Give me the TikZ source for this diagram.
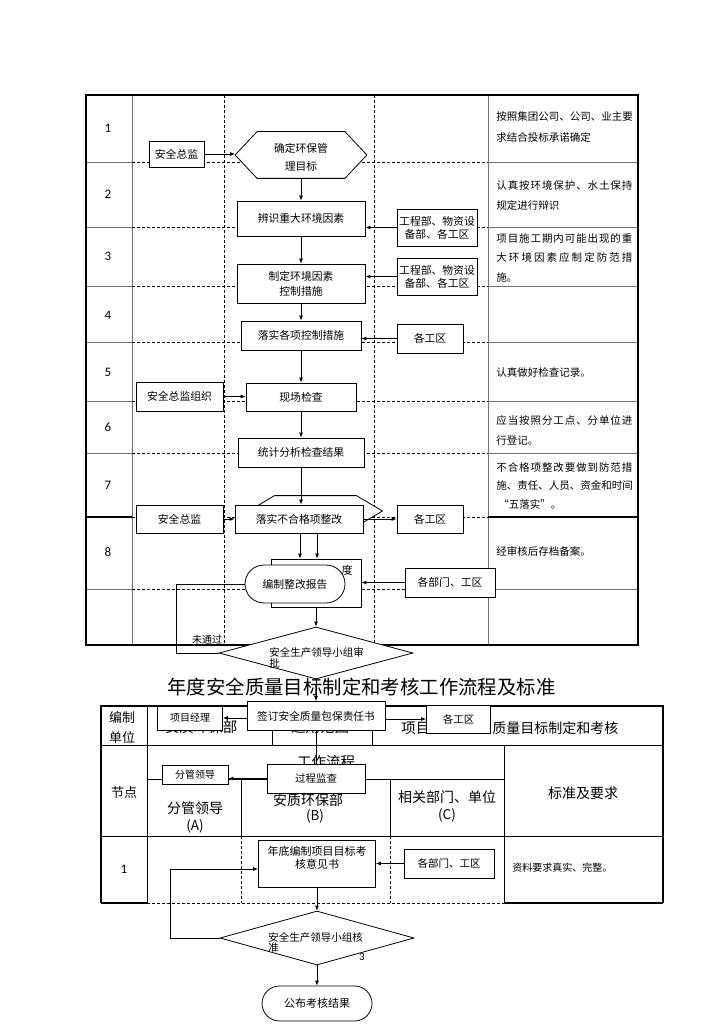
\documentclass[tikz,border=0pt]{standalone}
\usepackage{fontspec}
\setmainfont{Noto Sans CJK SC}
\newfontfamily\numf{Carlito}
\usetikzlibrary{arrows.meta,shapes.geometric,shapes.misc}
\def\sjA#1{\ifx#1\relax\else#1\hskip0pt plus1fil\expandafter\sjA\fi}
\newcommand\sj[1]{\makebox[136pt][s]{\sjA#1\relax\unskip}}
\newcommand\myfs[2]{\fontsize{#1}{#2}\selectfont}
\begin{document}
\begin{tikzpicture}[x=1pt,y=-1pt,line width=0.8pt,
  bx/.style={draw,fill=white,inner sep=0pt,align=center,font=\myfs{10.8}{13}},
  rbx/.style={rounded rectangle,draw,fill=white,inner sep=0pt,font=\myfs{10.8}{13}},
  dia/.style={diamond,draw,fill=white,inner sep=0pt},
  arr/.style={-{Latex[length=5pt,width=4pt]}},
  dsh/.style={dash pattern=on 3pt off 2pt},
  gline/.style={draw=black!55,line width=0.8pt},
  tframe/.style={line width=2.5pt},
  rtxt/.style={anchor=west,align=left,inner sep=0pt},
  numt/.style={font=\numf\myfs{13}{15},inner sep=0pt},
  hdr/.style={font=\myfs{14}{17},inner sep=0pt,align=center},
  txt/.style={inner sep=0pt,font=\myfs{10.5}{13},align=center},
]
\useasboundingbox (0,0) rectangle (724,1024);
\fill[white] (0,0) rectangle (724,1024);

% ---------- table 1 grid ----------
\draw[black!55] (132,95) -- (132,645);
\draw[black!55] (488,95) -- (488,645);
\draw[dsh] (224,95) -- (224,645);
\draw[dsh] (374,95) -- (374,645);
\foreach \y in {162,227,286,342,401,453,589}{
  \draw[gline] (86,\y) -- (132,\y);
  \draw[dsh] (132,\y) -- (488,\y);
  \draw[gline] (488,\y) -- (638,\y);
}
\draw[line width=1.2pt] (86,517) -- (132,517);
\draw[dsh] (132,517) -- (488,517);
\draw[line width=1.2pt] (488,517) -- (638,517);
\draw[tframe] (86,95) rectangle (638,645);

\foreach \n/\y in {1/128,2/194,3/256,4/315,5/372,6/427,7/485,8/552}
  \node[numt] (num\n) at (108,\y) {\n};

\node[rtxt,font=\myfs{10.5}{21}] (r1) at (496,127.5) {按照集团公司、公司、业主要\\求结合投标承诺确定};
\node[rtxt,font=\myfs{10.5}{20}] (r2) at (496,195) {\sj{认真按环境保护、水土保持}\\规定进行辩识};
\node[rtxt,font=\myfs{10.5}{19.5}] (r3) at (496,257.5) {\sj{项目施工期内可能出现的重}\\\sj{大环境因素应制定防范措}\\施。};
\node[rtxt,font=\myfs{10.5}{13}] (r5) at (496,372) {认真做好检查记录。};
\node[rtxt,font=\myfs{10.5}{20}] (r6) at (496,430) {\sj{应当按照分工点、分单位进}\\行登记。};
\node[rtxt,font=\myfs{10.5}{18.5}] (r7) at (496,485.5) {\sj{不合格项整改要做到防范措}\\\sj{施、责任、人员、资金和时间}\\\hspace{2pt}“五落实”。};
\node[rtxt,font=\myfs{10.5}{13}] (r8) at (496,551) {经审核后存档备案。};

% ---------- table 2 grid ----------
\draw (101,745) -- (663,745);
\draw (101,836) -- (663,836);
\draw (147,706) -- (147,903);
\draw (272,706) -- (272,745);
\draw (372,706) -- (372,745);
\draw (504,745) -- (504,903);
\draw (147,779) -- (504,779);
\draw (241,779) -- (241,836);
\draw (390,779) -- (390,836);
\draw[dsh] (241,836) -- (241,903);
\draw[dsh] (390,836) -- (390,903);
\draw[dsh] (147,903) -- (504,903);
\draw[tframe] (101,903) -- (101,706) -- (663,706) -- (663,903);
\draw[tframe] (101,903) -- (147,903);
\draw[tframe] (504,903) -- (663,903);

% table 2 texts
\node[hdr,font=\myfs{13}{15}] (t2a) at (122,718) {编制};
\node[hdr,font=\myfs{13}{15}] (t2b) at (122,737) {单位};
\node[hdr,font=\myfs{14.5}{17}] (t2c) at (201,727) {安质环保部};
\node[hdr,font=\myfs{14.5}{17}] (t2d) at (320,727) {适用范围};
\node[hdr,font=\myfs{14.5}{17},anchor=west] (t2e) at (401,728) {项目};
\node[hdr,font=\myfs{14}{17},anchor=west] (t2f) at (492,728) {质量目标制定和考核};
\node[hdr,font=\myfs{13}{15}] (t2g) at (124,793) {节点};
\node[hdr,font=\myfs{14.5}{17}] (t2h) at (326,762) {工作流程};
\node[hdr] (t2i) at (195,808) {分管领导};
\node[hdr,font=\myfs{13.5}{15}] (t2j) at (195,826) {(A)};
\node[hdr] (t2k) at (308,800) {安质环保部};
\node[hdr,font=\myfs{13.5}{15}] (t2l) at (315,816) {(B)};
\node[hdr] (t2m) at (447,797) {相关部门、单位};
\node[hdr,font=\myfs{13.5}{15}] (t2n) at (447,815) {(C)};
\node[hdr] (t2o) at (583,793) {标准及要求};
\node[numt] (t2p) at (124,869) {1};
\node[rtxt,font=\myfs{10}{12}] (t2q) at (512,868) {资料要求真实、完整。};

% title
\node[inner sep=0pt,font=\myfs{19.4}{22}] (title) at (361.5,687) {年度安全质量目标制定和考核工作流程及标准};

% ---------- table 1 shapes ----------
\node[bx,minimum width=55pt,minimum height=26pt] (aqzj1) at (176.5,154) {安全总监};
\node[inner sep=0pt,minimum width=131pt,minimum height=46pt] (hex1) at (301,155) {};
\draw[fill=white] (hex1.west) -- ([xshift=22pt]hex1.north west) -- ([xshift=-22pt]hex1.north east) -- (hex1.east) -- ([xshift=-22pt]hex1.south east) -- ([xshift=22pt]hex1.south west) -- cycle;
\node[txt,font=\myfs{10.8}{18}] (hex1t) at (301,157) {确定环保管\\理目标};
\node[bx,minimum width=128pt,minimum height=35pt] (bs) at (301,218.5) {辨识重大环境因素};
\node[bx,minimum width=80pt,minimum height=37pt,font=\myfs{10.8}{13}] (gcb1) at (437,227.5) {工程部、物资设\\备部、各工区};
\node[bx,minimum width=128pt,minimum height=39pt,font=\myfs{10.8}{15}] (zd) at (301,283.5) {制定环境因素\\控制措施};
\node[bx,minimum width=80pt,minimum height=37pt,font=\myfs{10.8}{13}] (gcb2) at (437,276.5) {工程部、物资设\\备部、各工区};
\node[bx,minimum width=120pt,minimum height=29pt] (lsg) at (301,335.5) {落实各项控制措施};
\node[bx,minimum width=66pt,minimum height=29pt] (gq1) at (430,338.5) {各工区};
\node[bx,minimum width=87pt,minimum height=29pt] (aqzjzz) at (179.5,396.5) {安全总监组织};
\node[bx,minimum width=110pt,minimum height=28pt] (xc) at (301,397) {现场检查};
\node[bx,minimum width=126pt,minimum height=29pt] (tj) at (301,452.5) {统计分析检查结果};
\node[inner sep=0pt,minimum width=133pt,minimum height=30pt] (hex2) at (315.5,511) {};
\draw[fill=white] (hex2.west) -- ([xshift=26pt]hex2.north west) -- ([xshift=-26pt]hex2.north east) -- (hex2.east) -- ([xshift=-26pt]hex2.south east) -- ([xshift=26pt]hex2.south west) -- cycle;
\node[bx,minimum width=128pt,minimum height=28pt] (lbh) at (299,519) {落实不合格项整改};
\node[bx,minimum width=87pt,minimum height=28pt] (aqzj2) at (179.5,519) {安全总监};
\node[bx,minimum width=66pt,minimum height=28pt] (gq2) at (430,519) {各工区};
\node[bx,minimum width=90pt,minimum height=48pt] (rb) at (316,583) {};
\node[txt,font=\myfs{11}{13}] (rbt) at (347,570) {度};
\node[rbx,minimum width=100pt,minimum height=38pt] (bz) at (295,584) {编制整改报告};
\node[bx,minimum width=90pt,minimum height=29pt] (gbm1) at (450,582.5) {各部门、工区};
\node[dia,minimum width=194pt,minimum height=52pt] (d1) at (316,653) {};
\node[txt,anchor=west] (d1a) at (269,652) {安全生产领导小组审};
\node[txt,anchor=west] (d1b) at (269,663) {批};
\node[txt,font=\myfs{10}{12}] (wtg) at (207,640) {未通过};

% ---------- table 2 shapes ----------
\node[bx,minimum width=138pt,minimum height=29pt,font=\myfs{10.7}{13}] (qd) at (316,716) {签订安全质量包保责任书};
\node[bx,minimum width=65pt,minimum height=24pt,font=\myfs{10}{12}] (xmjl) at (190,718) {项目经理};
\node[bx,minimum width=64pt,minimum height=28pt,font=\myfs{10.5}{12}] (gq3) at (458.5,719) {各工区};
\node[bx,minimum width=98pt,minimum height=29pt,font=\myfs{10.5}{12}] (gc) at (316,778.5) {过程监查};
\node[bx,minimum width=66pt,minimum height=19pt,font=\myfs{10}{12}] (fg) at (195,774.5) {分管领导};
\node[bx,minimum width=117pt,minimum height=47pt] (nd) at (317,863.5) {};
\node[txt,font=\myfs{11}{12.5}] (ndt) at (317,858) {年底编制项目目标考\\核意见书};
\node[bx,minimum width=90pt,minimum height=29pt,font=\myfs{10.5}{12}] (gbm2) at (449,863.5) {各部门、工区};
\node[dia,minimum width=194pt,minimum height=54pt] (d2) at (317,938) {};
\node[txt,anchor=west] (d2a) at (268,937) {安全生产领导小组核};
\node[txt,anchor=west] (d2b) at (268,948) {准};
\node[inner sep=0pt,font=\numf\myfs{11}{12}] (pg) at (362,957) {3};
\node[rbx,minimum width=110pt,minimum height=35pt,font=\myfs{11}{13}] (gb) at (317,1003.5) {公布考核结果};

% ---------- connectors ----------
\draw[arr] (aqzj1.east) -- (aqzj1.east -| hex1.west);
\draw[arr] (hex1.south) -- (bs.north);
\draw[arr] (gcb1.west) -- (gcb1.west -| bs.east);
\draw[arr] (bs.south) -- (zd.north);
\draw[arr] (gcb2.west) -- (gcb2.west -| zd.east);
\draw[arr] (zd.south) -- (lsg.north);
\draw[arr] (gq1.west) -- (gq1.west -| lsg.east);
\draw[arr] (lsg.south) -- (xc.north);
\draw[arr] (aqzjzz.east) -- (aqzjzz.east -| xc.west);
\draw[arr] (xc.south) -- (tj.north);
\draw[arr] (tj.south) -- (tj.south |- lbh.north);
\draw[arr] (aqzj2.east) -- (lbh.west);
\draw[arr] (lbh.east) -- (gq2.west);
\draw[arr] ([xshift=1pt]lbh.south) -- ([xshift=1pt]lbh.south |- rb.north);
\draw[arr] ([xshift=18pt]lbh.south) -- ([xshift=18pt]lbh.south |- rb.north);
\draw[arr] (gbm1.west) -- (gbm1.west -| rb.east);
\coordinate (lp1) at (176,653);
\draw (bz.west) -| (lp1) -- (d1.west);
\draw[arr] (rb.south) -- (d1.north);
\draw[arr] (d1.south) -- (qd.north);
\draw[arr] (qd.west |- xmjl.east) -- (xmjl.east);
\draw[arr] (qd.east |- gq3.west) -- (gq3.west);
\draw (qd.south) -- (qd.south |- gc.north);
\draw[arr] (gc.west) -- (gc.west -| fg.east);
\draw[arr] (gbm2.west) -- (gbm2.west -| nd.east);
\draw[arr] (nd.south) -- (d2.north);
\coordinate (lp2) at (170,869);
\draw[arr] (d2.west) -| (lp2) -- (lp2 -| nd.west);
\draw[arr] (d2.south) -- (gb.north);
\end{tikzpicture}
\end{document}
